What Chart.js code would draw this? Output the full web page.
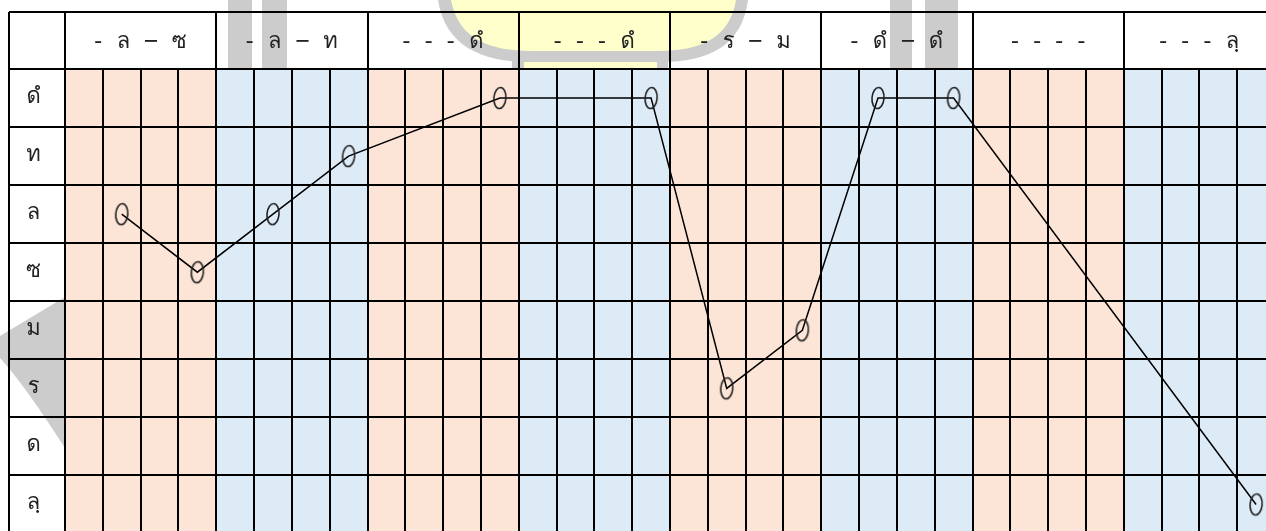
<!DOCTYPE html>
<html>
<head>
<meta charset="utf-8">
<script src="https://cdn.jsdelivr.net/npm/chart.js@4.4.1/dist/chart.umd.min.js"></script>
<style>
  html, body { margin: 0; padding: 0; background: #fff; overflow: hidden; }
  #wrap { width: 1290px; height: 545px; }
</style>
</head>
<body>
<div id="wrap"><canvas id="noteChart" width="1290" height="545"></canvas></div>
<script>
// header text of each 4-beat group
const groupLabels = ['-  ล  –  ซ', '-  ล  –  ท', '-  -  -  ดํ', '-  -  -  ดํ', '-  ร  –  ม', '-  ดํ  –  ดํ', '-  -  -  -', '-  -  -  ลฺ'];
// pitch rows, high to low
const noteLabels = ['ดํ', 'ท', 'ล', 'ซ', 'ม', 'ร', 'ด', 'ลฺ'];
// beat (column) where each note falls, and its pitch
const noteBeats = [2, 4, 6, 8, 12, 16, 18, 20, 22, 24, 32];
const noteValues = ['ล', 'ซ', 'ล', 'ท', 'ดํ', 'ดํ', 'ร', 'ม', 'ดํ', 'ดํ', 'ลฺ'];

const BEATS_PER_GROUP = 4;
const TOTAL_BEATS = groupLabels.length * BEATS_PER_GROUP;
const PINK = '#fce4d6';
const BLUE = '#ddebf7';
const FONT = { family: 'Tahoma, Loma, Garuda, "Noto Sans Thai Looped", "Noto Serif Thai", Waree, Sarabun, "Noto Sans", sans-serif', size: 22 };

// oval marker that looks like the "0" in the sheet
function makeOval() {
  const c = document.createElement('canvas');
  c.width = 18; c.height = 28;
  const g = c.getContext('2d');
  g.strokeStyle = '#222';
  g.lineWidth = 1.6;
  g.beginPath();
  g.ellipse(9, 14, 6, 10.5, 0.08, 0, Math.PI * 2);
  g.stroke();
  return c;
}

// faint logo behind the sheet
function drawWatermark(ctx) {
  ctx.fillStyle = '#cccccc';
  ctx.fillRect(228, 0, 24, 75);
  ctx.fillRect(262, 0, 25, 75);
  ctx.fillRect(890, 0, 22, 75);
  ctx.fillRect(925, 0, 33, 75);

  ctx.beginPath();
  ctx.moveTo(438, 0);
  ctx.bezierCurveTo(445, 45, 480, 62, 530, 62);
  ctx.lineTo(660, 62);
  ctx.bezierCurveTo(710, 62, 742, 45, 748, 0);
  ctx.closePath();
  ctx.fill();
  ctx.fillRect(512, 56, 156, 20);

  ctx.fillStyle = '#ffffcc';
  ctx.beginPath();
  ctx.moveTo(451, 0);
  ctx.bezierCurveTo(458, 38, 488, 51, 532, 51);
  ctx.lineTo(658, 51);
  ctx.bezierCurveTo(700, 51, 730, 38, 736, 0);
  ctx.closePath();
  ctx.fill();
  ctx.fillRect(524, 62, 133, 14);

  ctx.fillStyle = '#cccccc';
  ctx.beginPath();
  ctx.moveTo(0, 336);
  ctx.lineTo(70, 294);
  ctx.lineTo(70, 456);
  ctx.quadraticCurveTo(25, 385, 0, 358);
  ctx.closePath();
  ctx.fill();
}

const sheetPlugin = {
  id: 'sheet',
  beforeDraw(chart) {
    const { ctx, chartArea, scales: { x } } = chart;
    ctx.save();
    drawWatermark(ctx);
    groupLabels.forEach((_, g) => {
      const left = x.getPixelForValue(g * BEATS_PER_GROUP);
      const right = x.getPixelForValue((g + 1) * BEATS_PER_GROUP);
      ctx.fillStyle = g % 2 === 0 ? PINK : BLUE;
      ctx.fillRect(left, chartArea.top, right - left, chartArea.bottom - chartArea.top);
    });
    ctx.restore();
  },
  beforeDatasetsDraw(chart) {
    // outer frame: top edge of header and left edge of label column
    const { ctx, chartArea, scales: { x, y } } = chart;
    ctx.save();
    ctx.strokeStyle = '#000';
    ctx.lineWidth = 2;
    ctx.beginPath();
    ctx.moveTo(y.left, x.top);
    ctx.lineTo(chart.width, x.top);
    ctx.moveTo(y.left, x.top);
    ctx.lineTo(y.left, chartArea.bottom + 1);
    ctx.stroke();
    ctx.restore();
  }
};

new Chart(document.getElementById('noteChart'), {
  type: 'line',
  data: {
    datasets: [{
      data: noteBeats.map((b, i) => ({ x: b - 0.5, y: noteValues[i] })),
      borderColor: '#000',
      borderWidth: 1.5,
      tension: 0,
      pointStyle: makeOval(),
      pointRadius: 10
    }]
  },
  options: {
    responsive: false,
    animation: false,
    layout: { padding: { left: 9, top: 12, right: 15, bottom: 10 } },
    plugins: { legend: { display: false }, tooltip: { enabled: false } },
    scales: {
      x: {
        type: 'linear',
        position: 'top',
        min: 0,
        max: TOTAL_BEATS,
        afterFit(s) { s.height = 57; },
        ticks: {
          stepSize: 1,
          autoSkip: false,
          maxRotation: 0,
          padding: -44,
          color: '#222',
          font: FONT,
          callback: (v) => {
            const n = Math.round(v);
            return n % BEATS_PER_GROUP === 2 ? groupLabels[(n - 2) / BEATS_PER_GROUP] : '';
          }
        },
        grid: {
          color: '#000',
          lineWidth: 2,
          drawTicks: true,
          tickLength: 57,
          tickColor: (c) => (c.tick && Math.round(c.tick.value) % BEATS_PER_GROUP === 0 ? '#000' : 'rgba(0,0,0,0)')
        },
        border: { display: true, color: '#000', width: 2 }
      },
      y: {
        type: 'category',
        labels: noteLabels,
        offset: true,
        afterFit(s) { s.width = 56; },
        ticks: {
          padding: -32,
          crossAlign: 'center',
          color: '#222',
          font: FONT
        },
        grid: {
          offset: true,
          color: '#000',
          lineWidth: 2,
          drawTicks: true,
          tickLength: 56,
          tickColor: '#000'
        },
        border: { display: true, color: '#000', width: 2 }
      }
    }
  },
  plugins: [sheetPlugin]
});
</script>
</body>
</html>
